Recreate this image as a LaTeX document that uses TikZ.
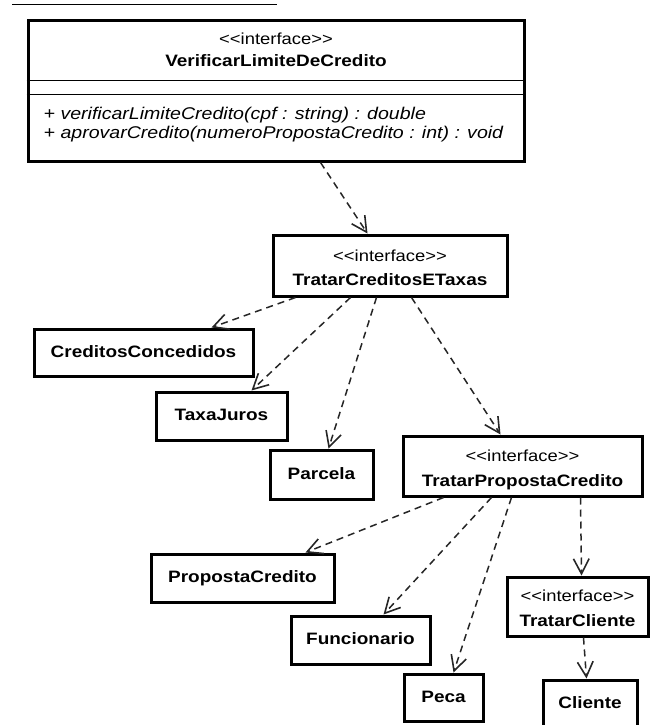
\documentclass[tikz,border=0pt]{standalone}
\usepackage{fontspec}
\setmainfont{Liberation Sans}[FakeStretch=1.15]
\usetikzlibrary{arrows.meta,calc}

\begin{document}
\begin{tikzpicture}[x=1pt,y=-1pt,
  box/.style={draw=black, line width=3pt, rectangle, inner sep=0pt,
    font=\fontsize{16.5}{18}\selectfont\bfseries, text height=9pt, text depth=0pt},
  sep/.style={line width=1.6pt},
  dep/.style={draw=black!85, line width=1.5pt, dash pattern=on 7pt off 5pt,
    -{Straight Barb[angle=55:17pt, line width=1.6pt]}},
  stereo/.style={anchor=base, inner sep=0pt, font=\fontsize{16}{18}\selectfont},
  cname/.style={anchor=base, inner sep=0pt, font=\fontsize{16.5}{18}\selectfont\bfseries},
  op/.style={anchor=base west, inner sep=0pt, font=\fontsize{17}{20}\selectfont\itshape},
]
\useasboundingbox (0,0) rectangle (650,725);

% rule above the diagram
\draw[line width=1.5pt] (12,4.7) -- (277,4.7);

% VerificarLimiteDeCredito interface with its compartments
\node[box, minimum width=496pt, minimum height=140pt] (ver) at (276,91) {};
\draw[sep] ([yshift=-61pt]ver.north west) -- ([yshift=-61pt]ver.north east);
\draw[sep] ([yshift=-75pt]ver.north west) -- ([yshift=-75pt]ver.north east);
\node[stereo] (ver-st) at ([yshift=-25.5pt]ver.north) {<{}<interface>{}>};
\node[cname]  (ver-nm) at ([yshift=-47pt]ver.north) {VerificarLimiteDeCredito};
\node[op] (ver-op1) at ([xshift=17pt,yshift=-100pt]ver.north west)
  {+ verificarLimiteCredito(cpf : string) : double};
\node[op] (ver-op2) at ([xshift=17pt,yshift=-119pt]ver.north west)
  {+ aprovarCredito(numeroPropostaCredito : int) : void};

% TratarCreditosETaxas
\node[box, minimum width=234pt, minimum height=61pt] (tct) at (390,265.5) {};
\node[stereo] (tct-st) at ([yshift=-27.5pt]tct.north) {<{}<interface>{}>};
\node[cname]  (tct-nm) at ([yshift=-51.5pt]tct.north) {TratarCreditosETaxas};

% classes used by TratarCreditosETaxas
\node[box, minimum width=219pt, minimum height=47pt] (cc)  at (143.5,352.5) {CreditosConcedidos};
\node[box, minimum width=131pt, minimum height=48pt] (tj)  at (221.5,416)   {TaxaJuros};
\node[box, minimum width=103pt, minimum height=49pt] (par) at (321.5,474.5) {Parcela};

% TratarPropostaCredito
\node[box, minimum width=239pt, minimum height=60pt] (tpc) at (522.5,466) {};
\node[stereo] (tpc-st) at ([yshift=-27pt]tpc.north) {<{}<interface>{}>};
\node[cname]  (tpc-nm) at ([yshift=-52pt]tpc.north) {TratarPropostaCredito};

% classes used by TratarPropostaCredito
\node[box, minimum width=183pt, minimum height=48pt] (pc)   at (242.5,578) {PropostaCredito};
\node[box, minimum width=139pt, minimum height=48pt] (fun)  at (360.5,640) {Funcionario};
\node[box, minimum width=79pt,  minimum height=47pt] (peca) at (443.5,697.5) {Peca};

% TratarCliente
\node[box, minimum width=141pt, minimum height=59pt] (tcl) at (577.5,606.5) {};
\node[stereo] (tcl-st) at ([yshift=-25.5pt]tcl.north) {<{}<interface>{}>};
\node[cname]  (tcl-nm) at ([yshift=-51pt]tcl.north) {TratarCliente};

\node[box, minimum width=94pt, minimum height=48pt] (cli) at (590,704) {Cliente};

% dependencies
\draw[dep] ([xshift=294pt]ver.south west) -- ([xshift=96pt]tct.north west);
\draw[dep] ([xshift=24pt]tct.south west)  -- ([xshift=179pt]cc.north west);
\draw[dep] ([xshift=79pt]tct.south west)  -- ([xshift=97pt]tj.north west);
\draw[dep] ([xshift=105pt]tct.south west) -- ([xshift=60pt]par.north west);
\draw[dep] ([xshift=140pt]tct.south west) -- ([xshift=99pt]tpc.north west);
\draw[dep] ([xshift=42pt]tpc.south west)  -- ([xshift=156pt]pc.north west);
\draw[dep] ([xshift=90pt]tpc.south west)  -- ([xshift=94pt]fun.north west);
\draw[dep] ([xshift=110pt]tpc.south west) -- ([xshift=51pt]peca.north west);
\draw[dep] ([xshift=179pt]tpc.south west) -- ([xshift=76pt]tcl.north west);
\draw[dep] ([xshift=78pt]tcl.south west)  -- ([xshift=45pt]cli.north west);
\end{tikzpicture}
\end{document}
